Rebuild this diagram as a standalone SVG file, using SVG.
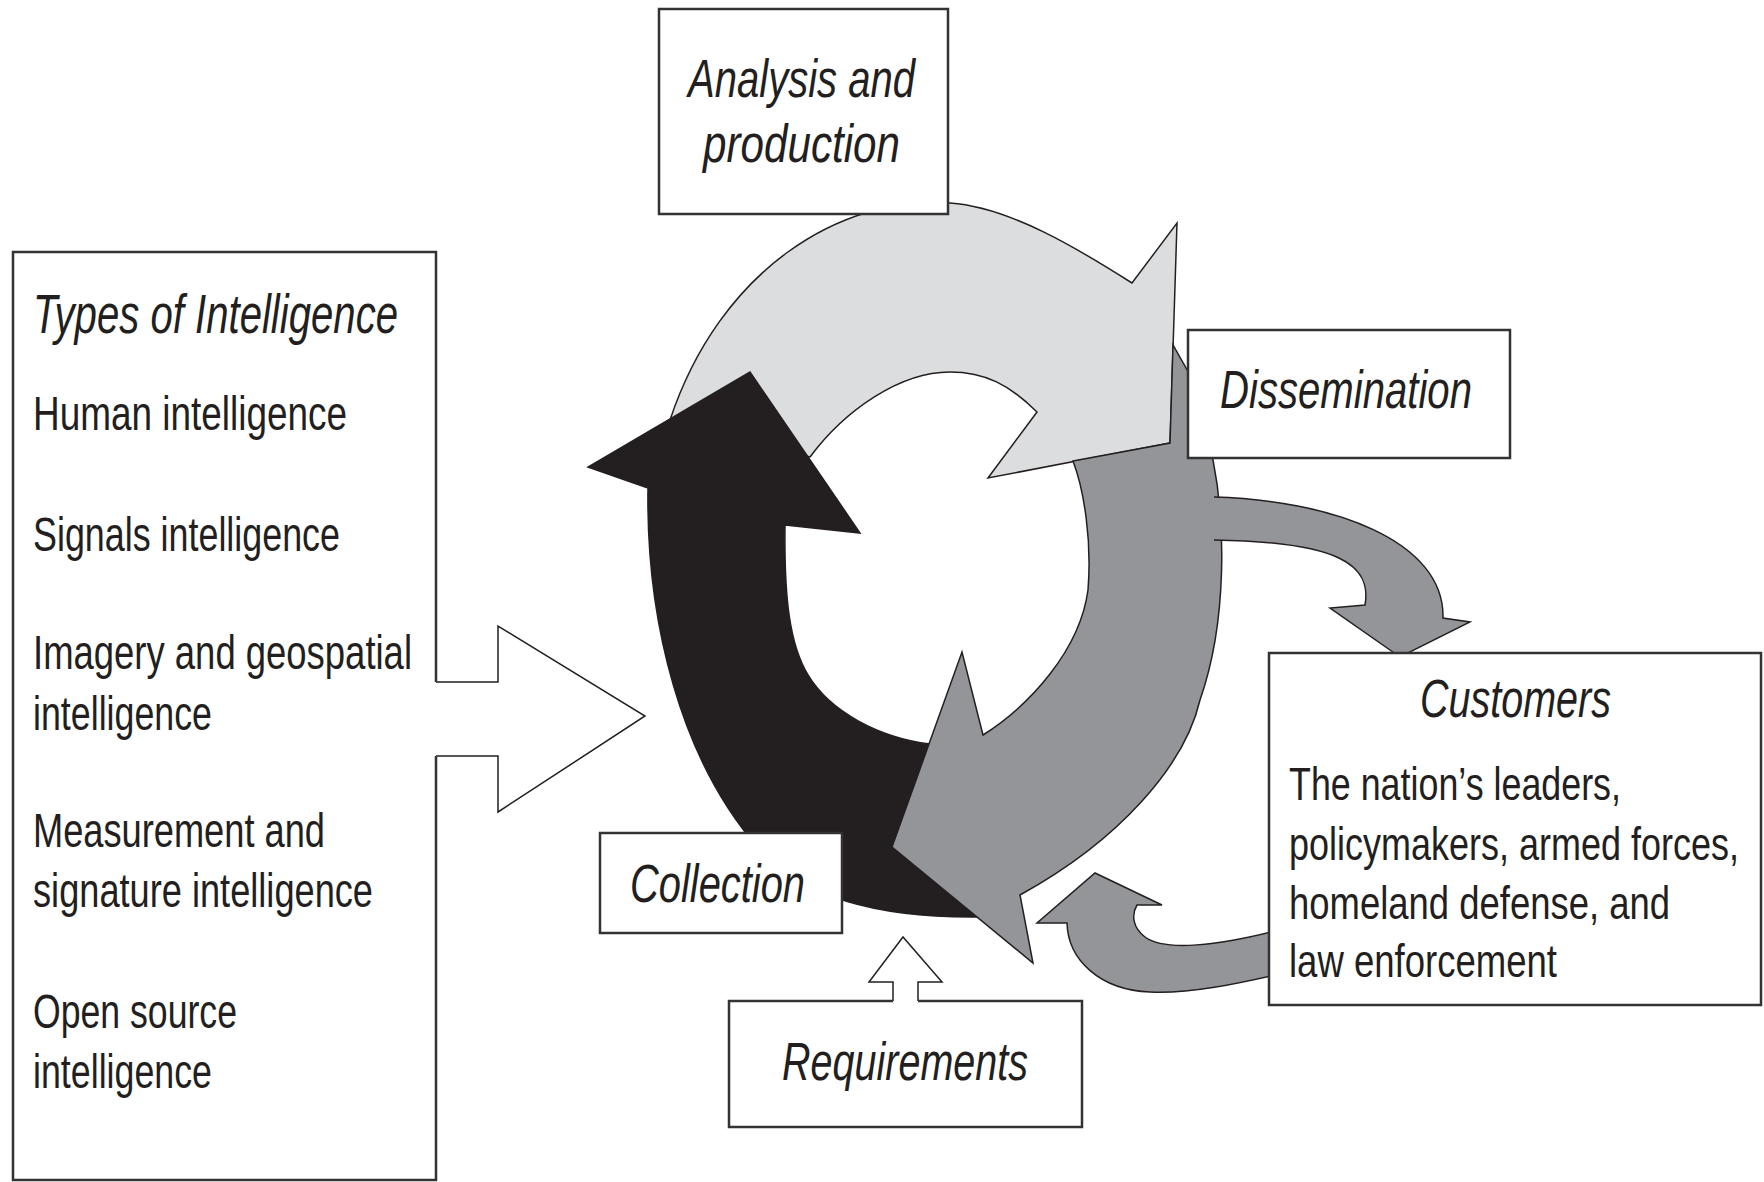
<svg xmlns="http://www.w3.org/2000/svg" width="1764" height="1182" viewBox="0 0 1764 1182">
<style>
.bg{fill:#ffffff}
.box{fill:#ffffff;stroke:#333333;stroke-width:2.5}
.arr{stroke:#231f20;stroke-width:1.5;stroke-linejoin:miter}
.light{fill:#dcdddf}
.gray{fill:#939598}
.black{fill:#231f20}
.white{fill:#ffffff}
text{font-family:"Liberation Sans",Arial,sans-serif;fill:#231f20}
.h{font-size:54px;font-style:italic}
.ht{font-size:56px;font-style:italic}
.b{font-size:48px}
.c{font-size:46px}
</style>
<rect class="bg" x="0" y="0" width="1764" height="1182"/>
<g id="connectors">
  <path id="arrow-analysis-dissemination" class="arr light" d="M670,420 C720,270 840,195 950,203 C1010,207 1080,250 1132,283 L1177,223 L1170,443 L988,478 L1037,412 C1010,385 985,372 950,372 C900,372 845,410 810,457 L670,420 Z"/>
  <path id="arrow-collection-analysis" class="arr black" d="M648,488 C646,620 680,760 760,850 C810,905 900,918 980,917 L985,912 L965,750 L930,744 C880,738 830,712 808,675 C790,645 784,600 785,525 L860,533 L750,372 L588,467 Z"/>
  <path id="arrow-dissemination-collection" class="arr gray" d="M1073,461 L1170,443 L1173,345 L1190,375 L1213,460 C1225,520 1228,620 1200,700 C1185,765 1120,840 1020,895 L1033,963 L892,847 L962,652 L983,735 C1030,705 1080,650 1088,590 C1092,540 1084,490 1073,461 Z"/>
  <path id="arrow-dissemination-customers" class="arr gray" d="M1214,497 C1330,500 1445,540 1443,618 L1470,622 L1400,657 L1330,608 L1365,605 C1372,565 1340,542 1214,540"/>
  <path id="arrow-customers-cycle" class="arr gray" d="M1275,931 C1220,945 1165,952 1145,937 C1133,928 1131,915 1137,905 L1162,905 L1095,873 L1037,923 L1067,923 C1068,960 1100,990 1150,992 C1190,994 1240,983 1275,975 Z"/>
  <path id="arrow-types-cycle" class="arr white" d="M436,682 H498 V626 L645,716 L498,812 V756 H436"/>
  <path id="arrow-requirements-collection" class="arr white" d="M893,1001 V982 H869 L903,937 L942,982 H918 V1001"/>
</g>
<g id="node-types">
  <path class="box" d="M436,682 V252 H13 V1180 H436 V756"/>
  <text class="ht" x="33" y="333" textLength="365" lengthAdjust="spacingAndGlyphs">Types of Intelligence</text>
  <text class="b" x="33" y="430" textLength="314" lengthAdjust="spacingAndGlyphs">Human intelligence</text>
  <text class="b" x="33" y="551" textLength="307" lengthAdjust="spacingAndGlyphs">Signals intelligence</text>
  <text class="b" x="33" y="669" textLength="379" lengthAdjust="spacingAndGlyphs">Imagery and geospatial</text>
  <text class="b" x="33" y="730" textLength="179" lengthAdjust="spacingAndGlyphs">intelligence</text>
  <text class="b" x="33" y="847" textLength="292" lengthAdjust="spacingAndGlyphs">Measurement and</text>
  <text class="b" x="33" y="907" textLength="340" lengthAdjust="spacingAndGlyphs">signature intelligence</text>
  <text class="b" x="33" y="1028" textLength="204" lengthAdjust="spacingAndGlyphs">Open source</text>
  <text class="b" x="33" y="1088" textLength="179" lengthAdjust="spacingAndGlyphs">intelligence</text>
</g>
<g id="node-analysis">
  <rect class="box" x="659" y="9" width="289" height="205"/>
  <text class="h" x="688" y="97" textLength="227" lengthAdjust="spacingAndGlyphs">Analysis and</text>
  <text class="h" x="703" y="162" textLength="197" lengthAdjust="spacingAndGlyphs">production</text>
</g>
<g id="node-dissemination">
  <rect class="box" x="1188" y="330" width="322" height="128"/>
  <text class="h" x="1220" y="408" textLength="252" lengthAdjust="spacingAndGlyphs">Dissemination</text>
</g>
<g id="node-collection">
  <rect class="box" x="600" y="833" width="242" height="100"/>
  <text class="h" x="630" y="902" textLength="175" lengthAdjust="spacingAndGlyphs">Collection</text>
</g>
<g id="node-requirements">
  <path class="box" d="M893,1001 H729 V1127 H1082 V1001 H918"/>
  <text class="h" x="782" y="1080" textLength="246" lengthAdjust="spacingAndGlyphs">Requirements</text>
</g>
<g id="node-customers">
  <rect class="box" x="1269" y="653" width="492" height="352"/>
  <text class="h" x="1420" y="717" textLength="191" lengthAdjust="spacingAndGlyphs">Customers</text>
  <text class="c" transform="translate(1289,800) scale(0.78,1)" x="0" y="0" textLength="425.6" lengthAdjust="spacingAndGlyphs">The nation’s leaders,</text>
  <text class="c" transform="translate(1289,860) scale(0.78,1)" x="0" y="0" textLength="576.9" lengthAdjust="spacingAndGlyphs">policymakers, armed forces,</text>
  <text class="c" transform="translate(1289,919) scale(0.78,1)" x="0" y="0" textLength="488.5" lengthAdjust="spacingAndGlyphs">homeland defense, and</text>
  <text class="c" transform="translate(1289,977) scale(0.78,1)" x="0" y="0" textLength="343.6" lengthAdjust="spacingAndGlyphs">law enforcement</text>
</g>
</svg>
